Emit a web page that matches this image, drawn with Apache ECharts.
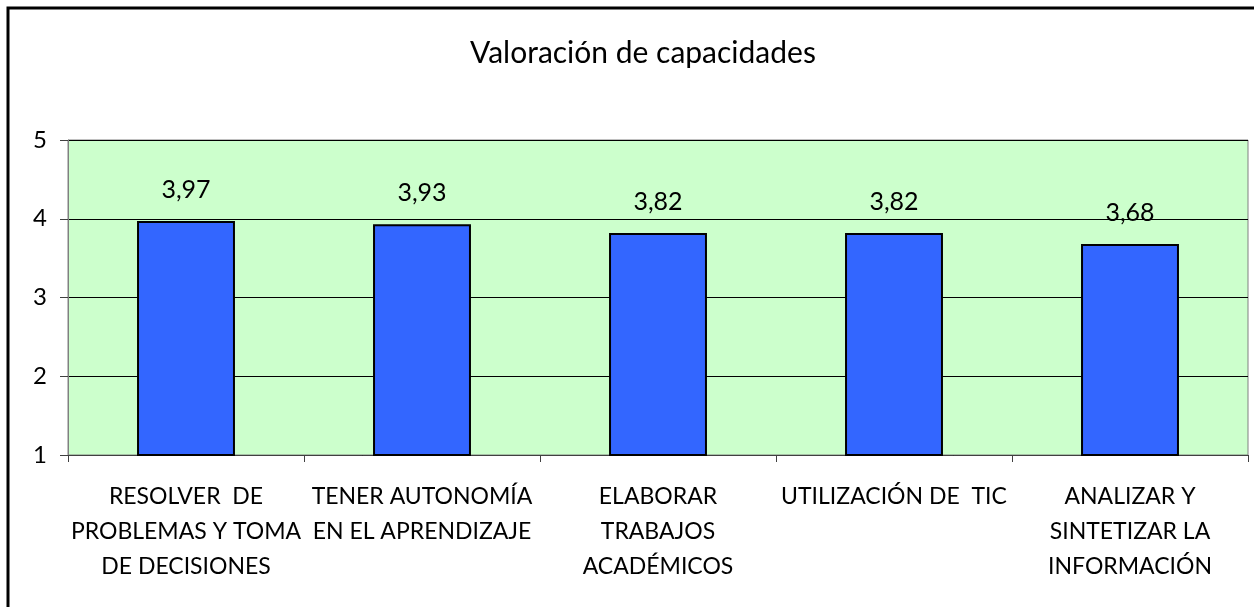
<!DOCTYPE html>
<html>
<head>
<meta charset="utf-8">
<script src="https://cdn.jsdelivr.net/npm/echarts@6/dist/echarts.min.js"></script>
<style>
html,body{margin:0;padding:0;background:#fff;}
#chart{width:1254px;height:607px;}
</style>
</head>
<body>
<div id="chart"></div>
<script>
var titleText = 'Valoración de capacidades';
var categories = [
  'RESOLVER  DE\nPROBLEMAS Y TOMA\nDE DECISIONES',
  'TENER AUTONOMÍA\nEN EL APRENDIZAJE',
  'ELABORAR\nTRABAJOS\nACADÉMICOS',
  'UTILIZACIÓN DE  TIC',
  'ANALIZAR Y\nSINTETIZAR LA\nINFORMACIÓN'
];
var values = [3.97, 3.93, 3.82, 3.82, 3.68];
var yMin = 1, yMax = 5, yStep = 1;

var FONT = 'Lato';
var chart = echarts.init(document.getElementById('chart'));
chart.setOption({
  animation: false,
  backgroundColor: '#ffffff',
  title: {
    text: titleText,
    left: 638,
    textAlign: 'center',
    top: 33,
    textStyle: {fontFamily: FONT, fontSize: 30, fontWeight: 'normal', color: '#000'}
  },
  grid: {
    left: 68, right: 6, top: 140, bottom: 152,
    show: true, backgroundColor: '#CCFFCC', borderColor: '#808080', borderWidth: 1
  },
  graphic: [{
    type: 'rect',
    shape: {x: 8, y: 8, width: 1270, height: 620},
    style: {fill: 'none', stroke: '#000', lineWidth: 3},
    silent: true, z: 100
  }],
  xAxis: {
    type: 'category',
    data: categories,
    axisLine: {lineStyle: {color: '#404040', width: 1}},
    axisTick: {show: true, length: 7, lineStyle: {color: '#404040'}},
    axisLabel: {
      interval: 0, margin: 24, color: '#000',
      fontFamily: FONT, fontSize: 23, lineHeight: 35, align: 'center'
    }
  },
  yAxis: {
    type: 'value',
    min: yMin, max: yMax, interval: yStep,
    axisLine: {show: true, lineStyle: {color: '#808080', width: 1}},
    axisTick: {show: true, length: 8, lineStyle: {color: '#404040'}},
    axisLabel: {margin: 21, color: '#000', fontFamily: FONT, fontSize: 24, padding: [9, 0, 0, 0]},
    splitLine: {show: true, lineStyle: {color: '#000', width: 1}}
  },
  series: [{
    type: 'bar',
    data: values,
    barWidth: '41.5%',
    itemStyle: {color: '#3366FF', borderColor: '#000', borderWidth: 2},
    label: {
      show: true, position: 'top', distance: 16,
      fontFamily: FONT, fontSize: 25, color: '#000', lineHeight: 30,
      formatter: function (p) { return p.value.toFixed(2).replace('.', ','); }
    }
  }]
});
</script>
</body>
</html>
